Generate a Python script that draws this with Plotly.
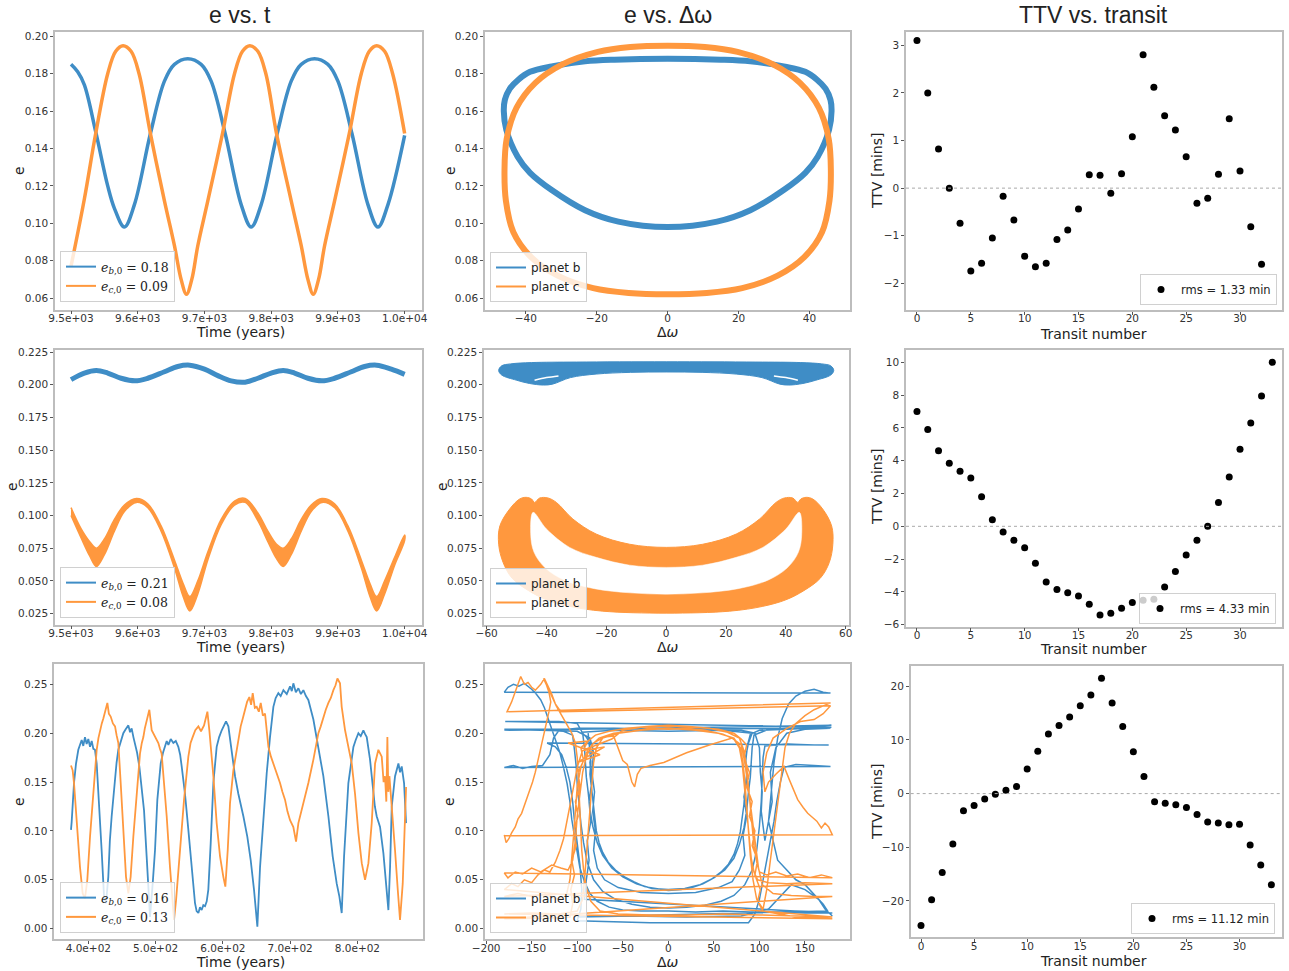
import plotly.graph_objects as go
from plotly.subplots import make_subplots

BLUE = "#3f8dc6"
ORANGE = "#ff983e"

# ---------------- Row 1 data ----------------
t1_b = [9500, 9510, 9520, 9537, 9555, 9565, 9580, 9595, 9619, 9640, 9655, 9675, 9695, 9710, 9731,
        9755, 9770, 9785, 9809, 9830, 9845, 9865, 9885, 9900, 9921, 9945, 9960, 9975, 10000]
e1_b = [0.185, 0.181, 0.174, 0.149, 0.120, 0.108, 0.098, 0.110, 0.148, 0.176, 0.185, 0.188, 0.185, 0.176, 0.148,
        0.110, 0.098, 0.110, 0.148, 0.176, 0.185, 0.188, 0.185, 0.176, 0.148, 0.110, 0.098, 0.110, 0.147]
t1_c = [9500, 9520, 9537, 9555, 9567, 9578, 9590, 9602, 9619, 9640, 9655, 9665, 9673, 9681, 9690, 9705, 9727,
        9745, 9757, 9768, 9780, 9792, 9808, 9830, 9845, 9855, 9863, 9871, 9880, 9895, 9917, 9935, 9947, 9958,
        9970, 9982, 10000]
e1_c = [0.077, 0.113, 0.148, 0.180, 0.192, 0.195, 0.192, 0.180, 0.148, 0.112, 0.088, 0.070, 0.062, 0.070, 0.088,
        0.112, 0.148, 0.180, 0.192, 0.195, 0.192, 0.180, 0.148, 0.112, 0.088, 0.070, 0.062, 0.070, 0.088, 0.112,
        0.148, 0.180, 0.192, 0.195, 0.192, 0.180, 0.148]

dw1_b = [0, 15, 23.3, 32.7, 38.8, 42.1, 44.5, 45.9, 46.2, 45.5, 42.3, 38.8, 32.7, 23.3, 13.9, 0, -13.9, -23.3,
         -32.7, -38.8, -42.3, -45.5, -46.2, -45.9, -44.5, -42.1, -38.8, -32.7, -23.3, -15, 0]
ew1_b = [0.188, 0.1875, 0.1866, 0.1839, 0.181, 0.1768, 0.172, 0.166, 0.160, 0.150, 0.1356, 0.127, 0.1178, 0.107,
         0.1009, 0.098, 0.1009, 0.107, 0.1178, 0.127, 0.1356, 0.150, 0.160, 0.166, 0.172, 0.1768, 0.181, 0.1839,
         0.1866, 0.1875, 0.188]
dw1_c = [46, 45.4, 42.6, 37.3, 29.7, 19.7, 10.5, 0, -10.5, -19.7, -29.7, -37.3, -42.6, -45.4, -46, -45.6, -43.5,
         -38.5, -31, -21, -11, 0, 11, 21, 31, 38.5, 43.5, 45.6, 46]
ew1_c = [0.1285, 0.1451, 0.1618, 0.1751, 0.1850, 0.1917, 0.1943, 0.1950, 0.1943, 0.1917, 0.1850, 0.1751, 0.1618,
         0.1451, 0.1285, 0.1119, 0.0952, 0.0819, 0.0720, 0.0653, 0.0627, 0.0620, 0.0627, 0.0653, 0.0720, 0.0819,
         0.0952, 0.1119, 0.1285]

transit = list(range(34))
ttv1 = [3.1, 2.0, 0.82, 0.0, -0.74, -1.74, -1.58, -1.05, -0.17, -0.67, -1.43, -1.65, -1.58, -1.08, -0.88, -0.44,
        0.28, 0.27, -0.11, 0.30, 1.08, 2.80, 2.12, 1.52, 1.22, 0.66, -0.32, -0.21, 0.29, 1.46, 0.36, -0.81, -1.60]

# ---------------- Row 2 data ----------------
t2_b = [9500, 9520, 9538, 9555, 9575, 9596, 9615, 9640, 9660, 9678, 9700, 9720, 9740, 9761, 9780, 9800, 9818,
        9835, 9855, 9876, 9895, 9920, 9940, 9958, 9980, 10000]
e2_b = [0.204, 0.209, 0.211, 0.209, 0.205, 0.203, 0.205, 0.210, 0.214, 0.215, 0.212, 0.207, 0.203, 0.202, 0.205,
        0.209, 0.211, 0.209, 0.205, 0.203, 0.205, 0.210, 0.214, 0.215, 0.212, 0.208]
t2_c = [9500, 9515, 9528, 9538, 9550, 9565, 9580, 9598, 9615, 9635, 9655, 9668, 9678, 9690, 9705, 9725, 9745,
        9761, 9780, 9795, 9808, 9818, 9830, 9845, 9860, 9876, 9895, 9915, 9935, 9948, 9958, 9970, 9985, 10000]
e2_c_hi = [0.106, 0.090, 0.080, 0.075, 0.082, 0.097, 0.108, 0.113, 0.109, 0.092, 0.066, 0.048, 0.038, 0.050,
           0.072, 0.097, 0.111, 0.113, 0.102, 0.088, 0.078, 0.075, 0.082, 0.097, 0.108, 0.113, 0.109, 0.092,
           0.066, 0.048, 0.038, 0.050, 0.068, 0.085]
e2_c_lo = [0.100, 0.083, 0.069, 0.061, 0.070, 0.088, 0.103, 0.110, 0.106, 0.088, 0.060, 0.038, 0.027, 0.040,
           0.066, 0.093, 0.108, 0.110, 0.096, 0.080, 0.067, 0.061, 0.070, 0.088, 0.103, 0.110, 0.106, 0.088,
           0.060, 0.038, 0.027, 0.040, 0.062, 0.081]

dw2_b = [-56, -55, -52, -45, -30, 0, 30, 45, 52, 55, 56, 55, 50, 45.7, 41, 38, 32, 23.4, 12, 0, -12, -23.4, -32,
         -38, -41, -45.7, -50, -55, -56]
ew2_b = [0.211, 0.2145, 0.2160, 0.2170, 0.2174, 0.2176, 0.2174, 0.2170, 0.2160, 0.2145, 0.211, 0.2075, 0.2035,
         0.2010, 0.1998, 0.2005, 0.2055, 0.2082, 0.2095, 0.2098, 0.2095, 0.2082, 0.2055, 0.2005, 0.1998, 0.2010,
         0.2035, 0.2075, 0.211]
dw2_b_gap = [-44, -40, -36]
ew2_b_gap = [0.2035, 0.2055, 0.2068]
dw2_b_gap_r = [36, 40, 44]
ew2_b_gap_r = [0.2068, 0.2055, 0.2035]
dw2_c_out = [-52.3, -49, -46.8, -45, -44, -42.3, -39.5, -36.7, -31.2, -23.4, -12.2, 0, 12.2, 23.4, 31.2, 36.7,
             39.5, 42.3, 44, 45, 46.8, 49, 52.3, 55.3, 55.7, 54.5, 51.5, 46, 40, 32.3, 21.2, 0, -21.2, -32.3, -40,
             -46, -51.5, -54.5, -56, -55.6, -52.3]
ew2_c_out = [0.105, 0.1126, 0.1139, 0.1126, 0.110, 0.1134, 0.1134, 0.110, 0.0973, 0.0858, 0.078, 0.0756, 0.078,
             0.0858, 0.0973, 0.110, 0.1134, 0.1134, 0.110, 0.1126, 0.1139, 0.1126, 0.105, 0.092, 0.078, 0.064,
             0.052, 0.0425, 0.0355, 0.0305, 0.0268, 0.0253, 0.0268, 0.0305, 0.0355, 0.0425, 0.052, 0.064, 0.078,
             0.092, 0.105]
dw2_c_in = [-44.5, -40, -32.3, -23.4, -12.2, 0, 12.2, 23.4, 32.3, 40, 44.5, 45.3, 44.2, 40.5, 34, 24, 12, 0,
            -12, -24, -34, -40.5, -44.2, -45.3, -44.5]
ew2_c_in = [0.1024, 0.0896, 0.0756, 0.068, 0.062, 0.0603, 0.062, 0.068, 0.0756, 0.0896, 0.1024, 0.086, 0.072,
            0.060, 0.0505, 0.0440, 0.0408, 0.0398, 0.0408, 0.0440, 0.0505, 0.060, 0.072, 0.086, 0.1024]

ttv2 = [7.0, 5.9, 4.6, 3.85, 3.35, 2.95, 1.8, 0.4, -0.35, -0.85, -1.3, -2.25, -3.4, -3.85, -4.05, -4.25, -4.75,
        -5.4, -5.3, -5.0, -4.65, -4.5, -4.45, -3.7, -2.75, -1.75, -0.85, 0.0, 1.45, 3.0, 4.7, 6.3, 7.95, 10.0]

# ---------------- Row 3 data ----------------
t3_b = [374.2, 375.2, 378.7, 381.7, 385.1, 387.5, 390.1, 392.5, 395.0, 397.5, 400.0, 402.5, 405.0, 407.5, 409.9,
        412.4, 414.9, 417.3, 419.8, 423.3, 426.3, 429.7, 432.0, 434.7, 437.0, 439.7, 442.0, 444.6, 448.0, 452.0,
        455.5, 459.5, 462.0, 464.4, 467.0, 469.4, 472.5, 475.8, 479.3, 482.8, 486.7, 491.7, 495.7, 499.1, 502.6,
        505.0, 507.6, 511.0, 514.0, 516.5, 519.0, 522.5, 526.4, 530.0, 533.8, 536.5, 538.8, 543.7, 548.7, 553.7,
        558.6, 561.0, 563.6, 566.0, 568.5, 571.0, 573.5, 576.0, 578.4, 581.9, 585.9, 590.8, 594.5, 598.3, 601.5,
        604.7, 608.2, 613.1, 618.1, 623.0, 626.5, 630.5, 636.4, 641.4, 646.3, 651.3, 655.3, 660.2, 665.2, 670.1,
        675.1, 678.5, 682.5, 686.0, 690.0, 695.0, 699.9, 702.5, 704.8, 708.5, 712.3, 716.0, 719.7, 723.5, 727.1,
        734.6, 742.0, 749.4, 756.9, 763.3, 769.3, 773.2, 776.7, 780.2, 786.6, 794.1, 797.5, 801.5, 805.0, 808.9,
        811.5, 813.9, 818.8, 823.8, 826.0, 828.7, 831.0, 833.7, 838.7, 843.6, 846.1, 848.6, 851.1, 856.0, 858.5,
        861.0, 863.5, 865.9, 869.4, 872.4]
e3_b = [0.101, 0.109, 0.149, 0.169, 0.183, 0.188, 0.193, 0.187, 0.196, 0.189, 0.194, 0.186, 0.192, 0.184, 0.183,
        0.169, 0.142, 0.112, 0.080, 0.033, 0.026, 0.053, 0.090, 0.115, 0.132, 0.156, 0.170, 0.183, 0.192, 0.200,
        0.204, 0.208, 0.201, 0.205, 0.196, 0.190, 0.180, 0.166, 0.145, 0.121, 0.074, 0.012, 0.046, 0.080, 0.132,
        0.150, 0.169, 0.180, 0.186, 0.192, 0.188, 0.194, 0.190, 0.192, 0.186, 0.178, 0.166, 0.138, 0.101, 0.063,
        0.026, 0.018, 0.016, 0.022, 0.019, 0.024, 0.023, 0.028, 0.040, 0.087, 0.149, 0.186, 0.196, 0.203, 0.207,
        0.212, 0.207, 0.179, 0.156, 0.138, 0.128, 0.115, 0.094, 0.070, 0.040, 0.002, 0.063, 0.115, 0.159, 0.196,
        0.227, 0.236, 0.241, 0.238, 0.244, 0.240, 0.248, 0.243, 0.251, 0.242, 0.246, 0.240, 0.244, 0.238, 0.234,
        0.214, 0.186, 0.156, 0.115, 0.074, 0.046, 0.033, 0.016, 0.074, 0.149, 0.186, 0.193, 0.200, 0.197, 0.203,
        0.199, 0.196, 0.173, 0.138, 0.125, 0.115, 0.110, 0.104, 0.077, 0.040, 0.019, 0.063, 0.125, 0.156, 0.162,
        0.169, 0.160, 0.166, 0.149, 0.108]
t3_c = [374.2, 376.7, 378.7, 381.7, 385.1, 387.6, 391.6, 395.0, 398.5, 402.5, 407.4, 410.0, 412.4, 415.0, 417.3,
        420.0, 422.3, 425.0, 428.3, 430.5, 433.2, 436.5, 439.7, 442.0, 444.6, 448.1, 452.0, 456.0, 459.5, 462.9,
        466.9, 471.9, 476.8, 479.5, 481.8, 484.0, 486.7, 490.7, 494.2, 496.5, 499.1, 501.5, 504.1, 506.5, 509.0,
        512.5, 516.5, 521.4, 525.4, 527.4, 530.4, 536.3, 542.3, 548.7, 552.0, 555.1, 559.0, 563.6, 567.5, 572.0,
        577.0, 579.9, 585.9, 590.8, 595.8, 600.7, 603.7, 607.2, 610.7, 615.6, 620.6, 626.5, 630.0, 633.0, 636.0,
        639.4, 642.0, 644.4, 647.5, 650.3, 653.5, 656.3, 659.5, 662.7, 667.7, 671.5, 675.1, 680.0, 685.0, 688.5,
        692.4, 696.0, 699.9, 704.8, 708.8, 712.3, 719.7, 727.1, 734.6, 742.0, 745.5, 749.4, 753.0, 756.9, 760.5,
        764.3, 767.5, 770.3, 774.2, 776.7, 781.7, 786.6, 791.6, 796.5, 801.5, 806.5, 811.4, 816.4, 821.3, 826.3,
        831.2, 836.2, 839.0, 841.1, 843.0, 844.6, 846.0, 847.6, 851.1, 856.0, 860.0, 863.4, 867.4, 869.9, 872.4]
e3_c = [0.167, 0.162, 0.149, 0.115, 0.087, 0.063, 0.036, 0.031, 0.050, 0.094, 0.138, 0.165, 0.183, 0.195, 0.203,
        0.210, 0.215, 0.222, 0.231, 0.220, 0.217, 0.210, 0.207, 0.198, 0.190, 0.149, 0.098, 0.053, 0.036, 0.053,
        0.094, 0.142, 0.179, 0.190, 0.196, 0.205, 0.214, 0.224, 0.203, 0.200, 0.196, 0.192, 0.190, 0.184, 0.179,
        0.149, 0.115, 0.063, 0.026, 0.009, 0.029, 0.080, 0.132, 0.176, 0.190, 0.196, 0.203, 0.207, 0.202, 0.208,
        0.222, 0.203, 0.156, 0.108, 0.074, 0.053, 0.043, 0.080, 0.129, 0.162, 0.183, 0.207, 0.216, 0.224, 0.232,
        0.237, 0.229, 0.241, 0.226, 0.227, 0.222, 0.231, 0.218, 0.220, 0.186, 0.176, 0.169, 0.158, 0.149, 0.140,
        0.132, 0.120, 0.111, 0.104, 0.089, 0.108, 0.128, 0.149, 0.173, 0.200, 0.207, 0.217, 0.224, 0.231, 0.236,
        0.244, 0.249, 0.256, 0.251, 0.227, 0.203, 0.186, 0.169, 0.138, 0.098, 0.067, 0.050, 0.067, 0.108, 0.169,
        0.183, 0.176, 0.150, 0.156, 0.130, 0.196, 0.140, 0.156, 0.128, 0.080, 0.040, 0.009, 0.046, 0.098, 0.145]

path3_b = [
    (-88, 0.200), (-87, 0.188), (-85, 0.171), (-86, 0.158), (-84, 0.142), (-83, 0.128), (-81, 0.112), (-79, 0.100),
    (-76, 0.088), (-72, 0.078), (-66, 0.068), (-58, 0.060), (-48, 0.053), (-38, 0.048), (-26, 0.043), (-14, 0.041),
    (0, 0.039), (14, 0.040), (26, 0.042), (38, 0.046), (48, 0.051), (58, 0.058), (66, 0.066), (72, 0.076),
    (76, 0.087), (79, 0.099), (81, 0.112), (83, 0.127), (84, 0.142), (86, 0.158), (85, 0.172), (87, 0.188),
    (90, 0.199), (100, 0.203), (130, 0.204), (160, 0.205), (179, 0.206),
    (-179, 0.212), (-150, 0.212), (-120, 0.212), (-100, 0.210), (-94, 0.200), (-92, 0.185), (-91, 0.170),
    (-90, 0.155), (-88, 0.140), (-86, 0.122), (-83, 0.105), (-78, 0.088), (-72, 0.075), (-62, 0.062),
    (-50, 0.053), (-35, 0.046), (-18, 0.041), (0, 0.040), (18, 0.041), (35, 0.045), (50, 0.052), (62, 0.060),
    (72, 0.072), (78, 0.086), (83, 0.103), (86, 0.121), (88, 0.140), (90, 0.155), (91, 0.170), (92, 0.185),
    (94, 0.198), (110, 0.204), (150, 0.206), (179, 0.208),
    (-180, 0.203), (-150, 0.204), (-115, 0.202), (-105, 0.198), (-103, 0.183), (-101, 0.165), (-100, 0.148),
    (-98, 0.128), (-96, 0.108), (-93, 0.088), (-89, 0.068), (-82, 0.050), (-72, 0.038), (-58, 0.030),
    (-40, 0.025), (-20, 0.022), (0, 0.021), (20, 0.022), (40, 0.024), (58, 0.028), (72, 0.034), (84, 0.045),
    (92, 0.060), (97, 0.080), (100, 0.105), (102, 0.130), (103, 0.155), (104, 0.175), (106, 0.187),
    (130, 0.189), (160, 0.188), (176, 0.188),
    (-133, 0.190), (-124, 0.186), (-117, 0.178), (-112, 0.165), (-108, 0.150), (-105, 0.130), (-103, 0.110),
    (-100, 0.090), (-97, 0.065), (-95, 0.040), (-96, 0.020), (-100, 0.008), (-60, 0.007), (-20, 0.006),
    (30, 0.006), (70, 0.006), (88, 0.006), (95, 0.015), (100, 0.030), (104, 0.050), (108, 0.070), (112, 0.090),
    (116, 0.110), (119, 0.130), (123, 0.150), (127, 0.165), (140, 0.168), (160, 0.167), (178, 0.166),
    (-180, 0.165), (-170, 0.167), (-160, 0.164), (-150, 0.166), (-138, 0.167), (-130, 0.178), (-126, 0.195),
    (-120, 0.203), (-100, 0.205), (-60, 0.205), (-30, 0.204), (0, 0.205), (40, 0.204), (80, 0.203),
    (95, 0.200), (100, 0.185), (101, 0.160), (103, 0.140), (102, 0.120), (106, 0.090), (110, 0.110),
    (113, 0.140), (116, 0.170), (120, 0.195), (125, 0.215), (132, 0.230), (140, 0.238), (150, 0.243),
    (160, 0.245), (170, 0.242), (178, 0.241),
    (-180, 0.242), (-176, 0.247), (-170, 0.250), (-164, 0.248), (-158, 0.251), (-150, 0.245), (-145, 0.240),
    (-140, 0.234), (-136, 0.226), (-132, 0.215), (-128, 0.203), (-124, 0.192), (-119, 0.180), (-115, 0.165),
    (-111, 0.148), (-108, 0.130), (-106, 0.112), (-103, 0.095), (-100, 0.078), (-97, 0.062), (-92, 0.048),
    (-86, 0.036), (-78, 0.028), (-65, 0.022), (-50, 0.019), (-30, 0.018), (0, 0.018), (30, 0.017),
    (60, 0.018), (90, 0.017), (120, 0.017), (150, 0.016), (180, 0.016),
    (-92, 0.030), (-90, 0.050), (-87, 0.070), (-89, 0.090), (-85, 0.110), (-87, 0.130), (-84, 0.150),
    (-86, 0.170), (-83, 0.185), (-90, 0.196), (-95, 0.201), (-60, 0.203), (0, 0.202), (60, 0.203),
    (92, 0.200), (88, 0.190), (84, 0.172), (87, 0.155), (83, 0.135), (86, 0.115), (82, 0.095), (84, 0.075),
    (78, 0.060), (70, 0.048), (55, 0.042), (30, 0.037), (0, 0.036), (-30, 0.037), (-55, 0.042), (-70, 0.050),
    (-78, 0.062), (-82, 0.080), (-80, 0.100), (-83, 0.120), (-81, 0.140), (-84, 0.160), (-82, 0.180),
    (-86, 0.195), (-100, 0.202), (-140, 0.203), (-180, 0.204),
    (178, 0.205), (150, 0.204), (130, 0.200), (118, 0.185), (112, 0.160), (114, 0.130), (110, 0.110),
    (115, 0.090), (120, 0.070), (130, 0.060), (140, 0.050), (150, 0.045), (160, 0.035), (170, 0.025),
    (175, 0.018), (-100, 0.012), (-40, 0.013), (20, 0.012), (80, 0.013), (110, 0.020), (125, 0.035),
    (135, 0.045), (150, 0.040), (165, 0.030), (172, 0.020), (180, 0.013),
]
path3_c = [
    (-180, 0.096), (-178, 0.088), (-175, 0.092), (-172, 0.098), (-168, 0.104), (-165, 0.112), (-161, 0.118),
    (-158, 0.126), (-155, 0.132), (-152, 0.142), (-149, 0.150), (-146, 0.160), (-143, 0.172), (-141, 0.182),
    (-138, 0.192), (-136, 0.200), (-134, 0.210), (-131, 0.222), (-129, 0.232), (-131, 0.242), (-134, 0.250),
    (-137, 0.256), (-132, 0.248), (-128, 0.238), (-123, 0.228), (-118, 0.220), (-112, 0.210), (-106, 0.200),
    (-102, 0.190), (-100, 0.175), (-99, 0.160), (-98, 0.140), (-97, 0.120), (-96, 0.100), (-95, 0.080),
    (-93, 0.060), (-90, 0.042), (-85, 0.028), (-75, 0.018), (-55, 0.015), (-20, 0.014), (20, 0.014),
    (60, 0.015), (100, 0.014), (140, 0.013), (180, 0.012),
    (-180, 0.040), (-172, 0.046), (-165, 0.043), (-158, 0.050), (-150, 0.047), (-143, 0.055), (-136, 0.060),
    (-130, 0.058), (-124, 0.068), (-119, 0.080), (-115, 0.092), (-111, 0.110), (-108, 0.125), (-104, 0.145),
    (-100, 0.165), (-95, 0.180), (-88, 0.192), (-80, 0.198), (-65, 0.202), (-45, 0.205), (-20, 0.207),
    (0, 0.208), (20, 0.207), (45, 0.205), (65, 0.201), (78, 0.195), (83, 0.182), (86, 0.165), (88, 0.145),
    (90, 0.125), (92, 0.105), (94, 0.085), (97, 0.068), (100, 0.058), (108, 0.055), (118, 0.058), (130, 0.054),
    (142, 0.056), (155, 0.052), (168, 0.055), (180, 0.052),
    (-180, 0.057), (-176, 0.052), (-168, 0.058), (-160, 0.056), (-150, 0.062), (-140, 0.058), (-128, 0.065),
    (-118, 0.062), (-110, 0.060), (-105, 0.070), (-102, 0.090), (-100, 0.115), (-97, 0.140), (-94, 0.160),
    (-90, 0.176), (-84, 0.188), (-76, 0.195), (-60, 0.200), (-40, 0.202), (-20, 0.205), (0, 0.204),
    (20, 0.205), (40, 0.203), (60, 0.199), (72, 0.194), (78, 0.185), (81, 0.170), (83, 0.150), (85, 0.130),
    (87, 0.110), (89, 0.090), (91, 0.072), (94, 0.058), (98, 0.050), (110, 0.047), (130, 0.046), (150, 0.047),
    (168, 0.046), (180, 0.046),
    (-180, 0.033), (-165, 0.036), (-150, 0.033), (-135, 0.035), (-120, 0.030), (-112, 0.034), (-108, 0.050),
    (-106, 0.070), (-104, 0.095), (-102, 0.120), (-100, 0.145), (-96, 0.165), (-90, 0.180), (-82, 0.190),
    (-70, 0.196), (-60, 0.197), (-55, 0.185), (-50, 0.172), (-45, 0.168), (-40, 0.150), (-37, 0.145),
    (-34, 0.158), (-30, 0.164), (-20, 0.167), (-5, 0.170), (20, 0.180), (45, 0.188), (70, 0.195), (80, 0.188),
    (84, 0.170), (87, 0.150), (90, 0.128), (93, 0.105), (96, 0.083), (99, 0.062), (103, 0.045), (115, 0.036),
    (135, 0.034), (160, 0.033), (180, 0.033),
    (-180, 0.010), (-130, 0.011), (-108, 0.012), (-105, 0.025), (-107, 0.040), (-103, 0.055), (-106, 0.070),
    (-101, 0.085), (-104, 0.100), (-99, 0.115), (-102, 0.130), (-97, 0.145), (-99, 0.160), (-93, 0.172),
    (-96, 0.185), (-88, 0.192), (-110, 0.190), (-75, 0.178), (-100, 0.170), (-70, 0.186), (-95, 0.182),
    (-62, 0.194), (-50, 0.203), (-30, 0.206), (0, 0.207), (30, 0.206), (55, 0.204), (72, 0.200), (80, 0.194),
    (86, 0.188), (83, 0.175), (89, 0.160), (86, 0.145), (92, 0.130), (89, 0.115), (95, 0.100), (92, 0.085),
    (98, 0.070), (95, 0.055), (101, 0.040), (98, 0.028), (104, 0.018), (140, 0.012), (180, 0.010),
    (-180, 0.015), (-150, 0.016), (-120, 0.015), (-100, 0.018), (-94, 0.030), (-92, 0.050), (-90, 0.075),
    (-88, 0.100), (-86, 0.125), (-84, 0.150), (-82, 0.170), (-79, 0.185), (-72, 0.195), (-55, 0.200),
    (-30, 0.203), (0, 0.205), (30, 0.203), (55, 0.200), (72, 0.195), (79, 0.185), (82, 0.170), (84, 0.150),
    (86, 0.125), (88, 0.100), (90, 0.075), (93, 0.050), (97, 0.030), (104, 0.020), (108, 0.040), (112, 0.070),
    (116, 0.100), (120, 0.130), (124, 0.160), (128, 0.185), (133, 0.200), (140, 0.210), (150, 0.218),
    (160, 0.224), (170, 0.228), (178, 0.231),
    (-177, 0.222), (-172, 0.232), (-167, 0.245), (-162, 0.258), (-158, 0.250), (-154, 0.252), (-150, 0.247),
    (-146, 0.244), (-140, 0.250), (-136, 0.256), (-133, 0.250), (-128, 0.240), (-124, 0.230), (-118, 0.222),
    (178, 0.228), (170, 0.220), (160, 0.214), (145, 0.212), (130, 0.205), (115, 0.195), (108, 0.180),
    (104, 0.160), (106, 0.140), (110, 0.150), (118, 0.158), (127, 0.166), (133, 0.152), (138, 0.140),
    (142, 0.132), (148, 0.124), (153, 0.118), (158, 0.114), (163, 0.110), (168, 0.103), (172, 0.108),
    (176, 0.104), (180, 0.096), (-180, 0.095),
]
dw3_b = [p[0] for p in path3_b]
ew3_b = [p[1] for p in path3_b]
dw3_c = [p[0] for p in path3_c]
ew3_c = [p[1] for p in path3_c]

ttv3 = [-24.6, -19.8, -14.7, -9.4, -3.2, -2.2, -1.0, -0.1, 0.6, 1.3, 4.6, 7.9, 11.1, 12.7, 14.3, 16.4, 18.4, 21.5,
        16.9, 12.5, 7.8, 3.2, -1.5, -1.8, -2.1, -2.6, -3.9, -5.3, -5.5, -5.8, -5.7, -9.6, -13.3, -17.0]

legend_b = ["<i>e</i><sub><i>b</i>,0</sub> = 0.18", "<i>e</i><sub><i>b</i>,0</sub> = 0.21",
            "<i>e</i><sub><i>b</i>,0</sub> = 0.16"]
legend_c = ["<i>e</i><sub><i>c</i>,0</sub> = 0.09", "<i>e</i><sub><i>c</i>,0</sub> = 0.08",
            "<i>e</i><sub><i>c</i>,0</sub> = 0.13"]
rms_labels = ["rms = 1.33 min", "rms = 4.33 min", "rms = 11.12 min"]

# ---------------- Figure ----------------
fig = make_subplots(rows=3, cols=3)

def leg(r, c):
    n = (r - 1) * 3 + c
    return "legend" if n == 1 else f"legend{n}"

def legend_line(name, color, r, c):
    fig.add_trace(go.Scatter(x=[None], y=[None], mode="lines", line=dict(color=color, width=2),
                             name=name, legend=leg(r, c)), row=r, col=c)

# Row 1
fig.add_trace(go.Scatter(x=t1_b, y=e1_b, mode="lines", line=dict(color=BLUE, width=3.5, shape="spline"),
                         showlegend=False), row=1, col=1)
fig.add_trace(go.Scatter(x=t1_c, y=e1_c, mode="lines", line=dict(color=ORANGE, width=3.5, shape="spline"),
                         showlegend=False), row=1, col=1)
legend_line(legend_b[0], BLUE, 1, 1)
legend_line(legend_c[0], ORANGE, 1, 1)
fig.add_trace(go.Scatter(x=dw1_b, y=ew1_b, mode="lines", line=dict(color=BLUE, width=6, shape="spline"),
                         showlegend=False), row=1, col=2)
fig.add_trace(go.Scatter(x=dw1_c, y=ew1_c, mode="lines", line=dict(color=ORANGE, width=6, shape="spline"),
                         showlegend=False), row=1, col=2)
legend_line("planet b", BLUE, 1, 2)
legend_line("planet c", ORANGE, 1, 2)
fig.add_trace(go.Scatter(x=transit[:len(ttv1)], y=ttv1, mode="markers", marker=dict(color="black", size=7),
                         name=rms_labels[0], legend=leg(1, 3)), row=1, col=3)

# Row 2
fig.add_trace(go.Scatter(x=t2_b, y=e2_b, mode="lines", line=dict(color=BLUE, width=5, shape="spline"),
                         showlegend=False), row=2, col=1)
fig.add_trace(go.Scatter(x=t2_c + t2_c[::-1], y=e2_c_hi + e2_c_lo[::-1], mode="lines", fill="toself",
                         fillcolor=ORANGE, line=dict(color=ORANGE, width=1.5, shape="spline"),
                         showlegend=False, hoverinfo="skip"), row=2, col=1)
legend_line(legend_b[1], BLUE, 2, 1)
legend_line(legend_c[1], ORANGE, 2, 1)

fig.add_trace(go.Scatter(x=dw2_b, y=ew2_b, mode="lines", fill="toself", fillcolor=BLUE,
                         line=dict(color=BLUE, width=1, shape="spline"), showlegend=False), row=2, col=2)
for gx, gy in ((dw2_b_gap, ew2_b_gap), (dw2_b_gap_r, ew2_b_gap_r)):
    fig.add_trace(go.Scatter(x=gx, y=gy, mode="lines", line=dict(color="white", width=1.5, shape="spline"),
                             showlegend=False), row=2, col=2)
fig.add_trace(go.Scatter(x=dw2_c_out, y=ew2_c_out, mode="lines", fill="toself", fillcolor=ORANGE,
                         line=dict(color=ORANGE, width=1, shape="spline"), showlegend=False), row=2, col=2)
fig.add_trace(go.Scatter(x=dw2_c_in, y=ew2_c_in, mode="lines", fill="toself", fillcolor="white",
                         line=dict(color="white", width=0.5, shape="spline"), showlegend=False), row=2, col=2)
legend_line("planet b", BLUE, 2, 2)
legend_line("planet c", ORANGE, 2, 2)
fig.add_trace(go.Scatter(x=transit[:len(ttv2)], y=ttv2, mode="markers", marker=dict(color="black", size=7),
                         name=rms_labels[1], legend=leg(2, 3)), row=2, col=3)

# Row 3
fig.add_trace(go.Scatter(x=t3_b, y=e3_b, mode="lines", line=dict(color=BLUE, width=1.8),
                         showlegend=False), row=3, col=1)
fig.add_trace(go.Scatter(x=t3_c, y=e3_c, mode="lines", line=dict(color=ORANGE, width=1.8),
                         showlegend=False), row=3, col=1)
legend_line(legend_b[2], BLUE, 3, 1)
legend_line(legend_c[2], ORANGE, 3, 1)
fig.add_trace(go.Scatter(x=dw3_b, y=ew3_b, mode="lines", line=dict(color=BLUE, width=1.5),
                         showlegend=False), row=3, col=2)
fig.add_trace(go.Scatter(x=dw3_c, y=ew3_c, mode="lines", line=dict(color=ORANGE, width=1.5),
                         showlegend=False), row=3, col=2)
legend_line("planet b", BLUE, 3, 2)
legend_line("planet c", ORANGE, 3, 2)
fig.add_trace(go.Scatter(x=transit[:len(ttv3)], y=ttv3, mode="markers", marker=dict(color="black", size=7),
                         name=rms_labels[2], legend=leg(3, 3)), row=3, col=3)

for r in (1, 2, 3):
    fig.add_hline(y=0, line=dict(color="#aaaaaa", width=1, dash="dot"), row=r, col=3)

# ---------------- Axes ----------------
W, H = 1289, 971
def xd(a, b):
    return [a / W, b / W]
def yd(top, bottom):
    return [1 - bottom / H, 1 - top / H]

dom = {
    (1, 1): (xd(55, 422), yd(32, 309.5)), (1, 2): (xd(485, 850), yd(32, 309.5)), (1, 3): (xd(906, 1282), yd(32, 310)),
    (2, 1): (xd(55, 422), yd(349.5, 624.5)), (2, 2): (xd(484, 849), yd(349.5, 624.5)), (2, 3): (xd(906, 1282), yd(350, 626.7)),
    (3, 1): (xd(54.3, 423.3), yd(664, 939.3)), (3, 2): (xd(485, 850), yd(664, 939.3)), (3, 3): (xd(910.7, 1282), yd(665.7, 937.3)),
}
ranges = {
    (1, 1): ([9476, 10026], [0.0539, 0.2023]), (1, 2): ([-51.5, 51.4], [0.0539, 0.2023]), (1, 3): ([-1.02, 33.9], [-2.56, 3.28]),
    (2, 1): ([9476, 10026], [0.0166, 0.227]), (2, 2): ([-60.9, 61.1], [0.0166, 0.227]), (2, 3): ([-1.02, 33.9], [-6.12, 10.75]),
    (3, 1): ([349.4, 898], [-0.0109, 0.2708]), (3, 2): ([-201.2, 199.4], [-0.0109, 0.2708]), (3, 3): ([-0.97, 34.0], [-26.8, 23.85]),
}
time_ticks = [9500, 9600, 9700, 9800, 9900, 10000]
time_labels = ["9.5e+03", "9.6e+03", "9.7e+03", "9.8e+03", "9.9e+03", "1.0e+04"]
time3_ticks = [400, 500, 600, 700, 800]
time3_labels = ["4.0e+02", "5.0e+02", "6.0e+02", "7.0e+02", "8.0e+02"]

axis_common = dict(showgrid=False, zeroline=False, showline=True, mirror=True, linecolor="#bdbdbd",
                   linewidth=1.5, ticks="outside", ticklen=3, tickwidth=1, tickcolor="#555",
                   automargin=False, tickfont=dict(family="DejaVu Sans", size=10.5, color="#333"))

for (r, c), (xdom, ydom) in dom.items():
    xr, yr = ranges[(r, c)]
    fig.update_xaxes(domain=xdom, range=xr, row=r, col=c, ticklabelstandoff=-5, **axis_common)
    fig.update_yaxes(domain=ydom, range=yr, row=r, col=c, ticklabelstandoff=0, **axis_common)

for r in (1, 2):
    fig.update_xaxes(tickmode="array", tickvals=time_ticks, ticktext=time_labels, row=r, col=1)
fig.update_xaxes(tickmode="array", tickvals=time3_ticks, ticktext=time3_labels, row=3, col=1)
for c in (1, 2):
    fig.update_yaxes(dtick=0.02, tick0=0, tickformat=".2f", row=1, col=c)
    fig.update_yaxes(dtick=0.025, tick0=0, tickformat=".3f", row=2, col=c)
    fig.update_yaxes(dtick=0.05, tick0=0, tickformat=".2f", row=3, col=c)
fig.update_xaxes(dtick=20, tick0=0, row=1, col=2)
fig.update_xaxes(dtick=20, tick0=0, row=2, col=2)
fig.update_xaxes(dtick=50, tick0=0, row=3, col=2)
for r in (1, 2, 3):
    fig.update_xaxes(dtick=5, tick0=0, row=r, col=3)
fig.update_yaxes(dtick=1, tick0=0, row=1, col=3)
fig.update_yaxes(dtick=2, tick0=0, row=2, col=3)
fig.update_yaxes(dtick=10, tick0=0, row=3, col=3)

# ---------------- Annotations ----------------
ann = []
def add_text(text, x, y, size, angle=0, family="DejaVu Sans"):
    ann.append(dict(text=text, x=x / W, y=1 - y / H, xref="paper", yref="paper", showarrow=False,
                    xanchor="center", yanchor="middle", textangle=angle,
                    font=dict(family=family, size=size, color="#222")))

add_text("e vs. t", 240, 15, 23, family="Liberation Sans")
add_text("e vs. Δω", 668, 15, 23, family="Liberation Sans")
add_text("TTV vs. transit", 1093, 15, 23, family="Liberation Sans")
for yrow, ycol3 in ((332, 334), (647, 649), (962, 961)):
    add_text("Time (years)", 240, yrow, 14)
    add_text("Δ<i>ω</i>", 668, yrow, 14)
    add_text("Transit number", 1093, ycol3, 14)
for ymid, xe1, xe2 in ((171, 19, 450), (487, 12, 442), (802, 19, 449)):
    add_text("e", xe1, ymid, 14, angle=-90)
    add_text("e", xe2, ymid, 14, angle=-90)
    add_text("TTV [mins]", 877, ymid, 14, angle=-90)

legend_style = dict(bgcolor="rgba(255,255,255,0.8)", bordercolor="#d0d0d0", borderwidth=1,
                    font=dict(family="DejaVu Sans", size=12, color="#222"), itemwidth=30,
                    tracegroupgap=0)
legends = {}
serif = dict(family="DejaVu Serif", size=12.5, color="#222")
for r, ybot in ((1, 302), (2, 618), (3, 933)):
    legends[leg(r, 1)] = dict(x=60 / W, y=1 - ybot / H, xanchor="left", yanchor="bottom",
                             **{**legend_style, "font": serif})
    legends[leg(r, 2)] = dict(x=490 / W, y=1 - ybot / H, xanchor="left", yanchor="bottom", **legend_style)
for r, ybot, xr in ((1, 305, 1277), (2, 624, 1276), (3, 934, 1275)):
    legends[leg(r, 3)] = dict(x=xr / W, y=1 - ybot / H, xanchor="right", yanchor="bottom",
                             **{**legend_style, "font": dict(family="DejaVu Sans", size=11.5, color="#222")})

fig.update_layout(width=W, height=H, margin=dict(l=0, r=0, t=0, b=0), plot_bgcolor="white",
                  paper_bgcolor="white", annotations=ann, showlegend=True, **legends)

fig.write_html("out.html", config={"displayModeBar": False},
               post_script="document.body.style.margin='0';")
